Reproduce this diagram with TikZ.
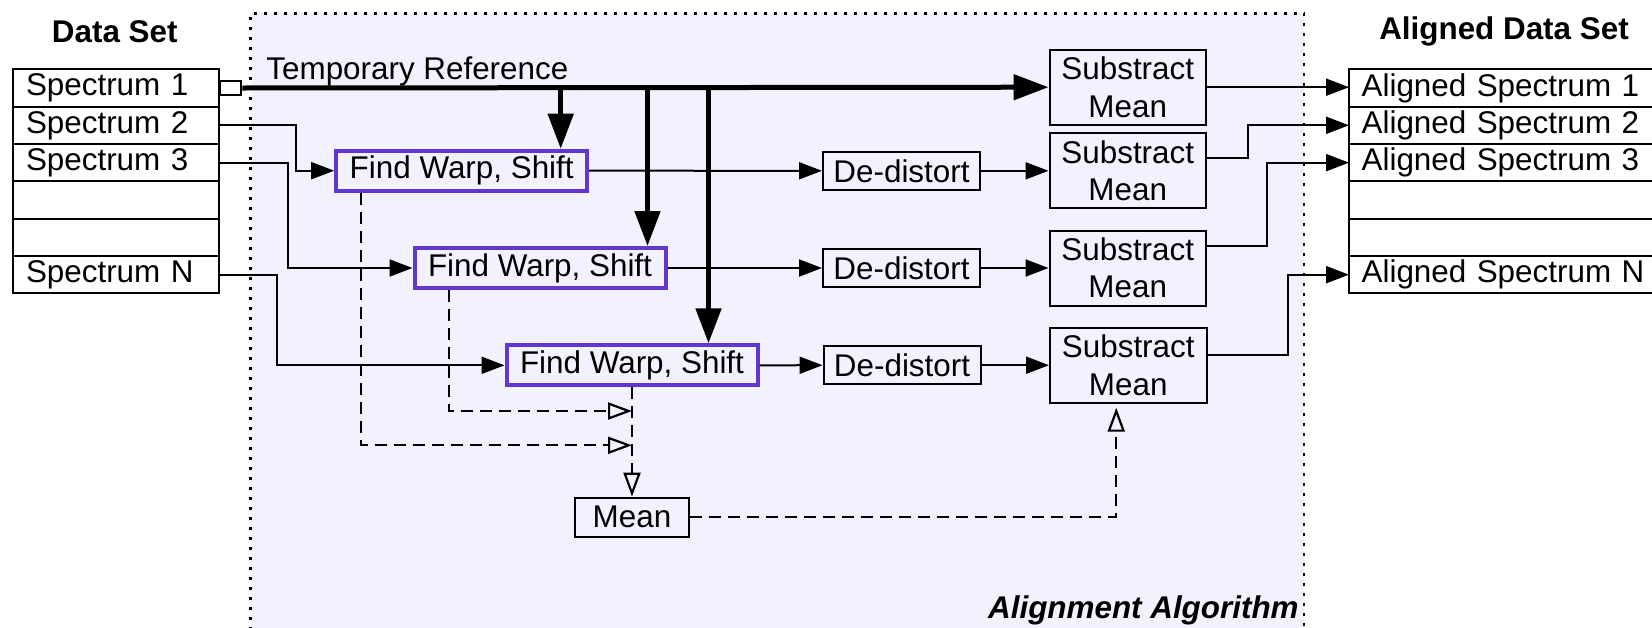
\documentclass[tikz,border=0pt]{standalone}
\usepackage{fontspec}
\setmainfont{Liberation Sans}
\usepackage{tikz}
\usetikzlibrary{arrows.meta,positioning,calc}
\definecolor{algbg}{HTML}{F2F2FE}
\definecolor{warp}{HTML}{6236D0}

\begin{document}
\begin{tikzpicture}[
  x=0.5pt,y=-0.5pt,
  font=\fontsize{15.7}{18.7}\selectfont,
  cell/.style={draw,line width=1pt,fill=white,outer sep=0pt,inner xsep=6.3pt,inner ysep=0pt,
               minimum height=18.67pt,text width=90.15pt,align=left},
  acell/.style={cell,text width=157.4pt},
  warpbox/.style={draw=warp,line width=2pt,minimum width=125.5pt,minimum height=20pt,inner sep=0pt},
  box/.style={draw,line width=1pt,minimum width=78.5pt,minimum height=19pt,inner sep=0pt,align=center},
  submean/.style={box,minimum width=78.25pt,minimum height=37.5pt},
  arr/.style={-{Triangle[length=11.5pt,width=8.5pt]},line width=1pt},
  bigarr/.style={-{Triangle[length=17.5pt,width=12.5pt]},line width=2.5pt},
  darr/.style={-{Triangle[open,length=12pt,width=8.5pt]},line width=1.1pt,dash pattern=on 6pt off 3.5pt},
  dotborder/.style={line width=1.4pt,dash pattern=on 1.6pt off 3.4pt},
  title/.style={font=\fontsize{15.7}{18.7}\selectfont\bfseries}
]
\useasboundingbox (0,0) rectangle (1652,627);
% algorithm region
\fill[algbg] (250.5,13.3) rectangle (1304,640);
\draw[dotborder] (250.5,640) -- (250.5,13.3) -- (1304,13.3) -- (1304,640);
\node[title,font=\fontsize{15.7}{18.7}\selectfont\bfseries\itshape,anchor=base east,inner sep=0pt] (algtitle) at (1299,618) {Alignment Algorithm};

% input data set
\node[title] (dstitle) at (114.8,31.7) {Data Set};
\node[cell] (s1) at (116.15,88) {Spectrum 1};
\node[cell,below=0pt of s1] (s2) {Spectrum 2};
\node[cell,below=0pt of s2] (s3) {Spectrum 3};
\node[cell,below=0pt of s3] (s4) {};
\node[cell,below=0pt of s4] (s5) {};
\node[cell,below=0pt of s5] (sN) {Spectrum N};
\node[draw,line width=1pt,fill=white,minimum width=10.7pt,minimum height=6.65pt,inner sep=0pt,anchor=west] (port) at (s1.east) {};

% aligned data set
\node[title] (adstitle) at (1504,31.7) {Aligned Data Set};
\node[acell,anchor=north west] (as1) at (1349,69.3) {Aligned Spectrum 1};
\node[acell,below=0pt of as1] (as2) {Aligned Spectrum 2};
\node[acell,below=0pt of as2] (as3) {Aligned Spectrum 3};
\node[acell,below=0pt of as3] (as4) {};
\node[acell,below=0pt of as4] (as5) {};
\node[acell,below=0pt of as5] (asN) {Aligned Spectrum N};

% algorithm blocks
\node[anchor=base west,inner sep=0pt] (tmpref) at (266,79.3) {Temporary Reference};
\node[warpbox] (fws1) at (461.7,170.7) {Find Warp, Shift};
\node[warpbox] (fws2) at (540,268) {Find Warp, Shift};
\node[warpbox] (fws3) at (632,365.3) {Find Warp, Shift};
\node[box] (dd1) at (901.5,170.8) {De-distort};
\node[box] (dd2) at (901.5,268) {De-distort};
\node[box] (dd3) at (902,365.2) {De-distort};
\node[submean,right=33.75pt of dd1] (sub2) {Substract\\Mean};
\node[submean,right=33.75pt of dd2] (sub3) {Substract\\Mean};
\node[submean,right=33.75pt of dd3] (sub4) {Substract\\Mean};
\node[submean,above=3.3pt of sub2] (sub1) {Substract\\Mean};
\node[box,minimum width=57pt,minimum height=19.5pt,below=54.65pt of fws3] (mean) {Mean};

% temporary reference
\draw[bigarr] (port.east) -- (sub1.west);
\coordinate (t1) at ([xshift=-14.25pt]fws1.north east |- port.east);
\coordinate (t2) at ([xshift=-10pt]fws2.north east |- port.east);
\coordinate (t3) at ([xshift=-25.5pt]fws3.north east |- port.east);
\foreach \i in {1,2,3}
  \draw[bigarr] (t\i) -- (t\i |- fws\i.north);

% spectra through the pipeline
\draw[arr] (s2.east) -- ++(77,0) |- (fws1.west);
\draw[arr] (s3.east) -- ++(69,0) |- (fws2.west);
\draw[arr] (sN.east) -- ++(58,0) |- (fws3.west);
\foreach \i in {1,2,3}
  \draw[arr] (fws\i.east) -- (dd\i.west);
\draw[arr] (dd1.east) -- (sub2.west);
\draw[arr] (dd2.east) -- (sub3.west);
\draw[arr] (dd3.east) -- (sub4.west);
\draw[arr] (sub1.east) -- (sub1.east -| as1.west);
\draw[arr] ([yshift=6.5pt]sub2.east) -- ++(41,0) |- (as2.west);
\draw[arr] ([yshift=11pt]sub3.east) -- ++(60,0) |- (as3.west);
\draw[arr] ([yshift=5pt]sub4.east) -- ++(80,0) |- (asN.west);

% warps to mean
\coordinate (j1) at (632,445.3);
\coordinate (j2) at (632,411);
\draw[darr] ([xshift=13.5pt]fws1.south west) |- (j1);
\draw[darr] ([xshift=18.25pt]fws2.south west) |- (j2);
\draw[darr] (fws3.south) -- (mean.north);
\draw[darr,shorten >=2pt] (mean.east) -| ([xshift=-6pt]sub4.south);
\end{tikzpicture}
\end{document}
